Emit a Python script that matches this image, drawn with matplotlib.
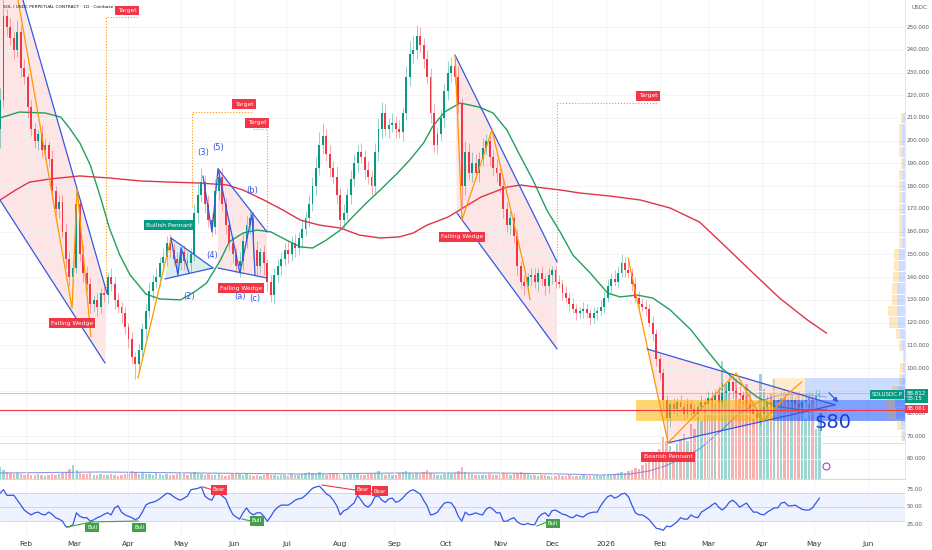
import matplotlib
matplotlib.use('Agg')
import matplotlib.pyplot as plt
from matplotlib import font_manager
import numpy as np
import pandas as pd

plt.rcParams['font.family'] = ['DejaVu Sans']

# x axis = days since START; one candle every 2 days
START = pd.Timestamp('2025-01-17')

first_open = 205
closes = [
    218, 255, 250, 245, 240, 248, 232, 228, 215, 205,
    200, 203, 196, 198, 192, 178, 170, 173, 160, 148,
    140, 144, 172, 150, 142, 137, 128, 130, 127, 133,
    132, 140, 137, 130, 127, 124, 118, 113, 105, 102,
    108, 117, 125, 134, 138, 140, 146, 149, 155, 152,
    148, 146, 151, 147, 146, 150, 168, 176, 182, 172,
    165, 162, 178, 184, 172, 163, 155, 150, 145, 147,
    156, 163, 166, 152, 145, 151, 146, 138, 132, 141,
    145, 148, 152, 150, 155, 153, 157, 161, 166, 172,
    180, 188, 198, 202, 194, 188, 184, 176, 165, 168,
    176, 183, 190, 195, 193, 187, 184, 180, 195, 205,
    212, 205, 207, 208, 205, 204, 212, 228, 238, 240,
    246, 242, 236, 228, 212, 198, 203, 210, 222, 230,
    233, 228, 216, 180, 195, 186, 190, 186, 192, 197,
    200, 193, 188, 186, 180, 170, 163, 166, 158, 145,
    138, 136, 140, 141, 138, 142, 139, 136, 141, 143,
    138, 137, 133, 131, 128, 126, 124, 125, 126, 124,
    122, 124, 125, 127, 131, 136, 139, 138, 142, 146,
    143, 142, 137, 131, 128, 127, 126, 120, 115, 104,
    98, 86, 78, 84, 82, 85, 83, 80, 84, 82,
    80, 83, 85, 84, 87, 86, 88, 85, 89, 90,
    94, 90, 89, 88, 86, 84, 82, 80, 78, 80,
    83, 85, 84, 86, 85, 87, 86, 85, 86, 84,
    83, 85, 86, 87, 86, 88, 88.8,
]
# wick lengths above / below the body, USDC, one digit per candle
wick_up = ('5934353423' '3243242334' '3382433232' '3243323232' '3334343434'
           '3323434563' '4353432334' '4443423233' '3334343434' '4566343534'
           '3443434345' '5434343566' '5434443435' '4353545434' '3434343323'
           '2323323232' '2323232232' '2323333434' '3423333232' '2222323232'
           '2232333453' '3223222323' '2323232322' '2323232')
wick_dn = ('8343434353' '3434343434' '4323434343' '3434343437' '4343434343'
           '3434343434' '3434343435' '4343435434' '3434343434' '3434343444'
           '3434343434' '4343434344' '4343434344' '4349434343' '3434343434'
           '3434343434' '3232323232' '3232323232' '3232323233' '3494232323'
           '2323232323' '2323232323' '2323232322' '2323232')
volume = [
    12, 9, 7, 6, 5, 6, 5, 4, 5, 4,
    4, 5, 4, 3, 4, 5, 4, 5, 6, 7,
    10, 14, 9, 6, 5, 5, 6, 4, 4, 5,
    4, 4, 5, 4, 3, 4, 5, 6, 8, 7,
    5, 6, 5, 5, 4, 6, 5, 4, 5, 4,
    4, 5, 6, 5, 4, 6, 7, 6, 5, 4,
    5, 4, 4, 5, 4, 3, 4, 5, 6, 5,
    4, 5, 4, 3, 4, 3, 4, 5, 4, 4,
    3, 4, 4, 3, 5, 4, 4, 5, 6, 7,
    6, 5, 7, 5, 4, 5, 6, 5, 4, 5,
    4, 5, 5, 6, 4, 4, 5, 5, 6, 8,
    5, 4, 5, 4, 4, 6, 7, 8, 6, 5,
    6, 5, 7, 9, 6, 5, 4, 4, 5, 6,
    5, 6, 8, 12, 7, 6, 5, 4, 4, 4,
    4, 5, 4, 4, 5, 6, 5, 4, 5, 6,
    7, 6, 5, 4, 4, 3, 4, 4, 3, 3,
    3, 4, 3, 3, 4, 3, 3, 3, 4, 3,
    3, 3, 4, 3, 4, 5, 4, 5, 6, 7,
    6, 8, 9, 11, 10, 14, 16, 18, 20, 25,
    30, 42, 38, 33, 28, 35, 40, 45, 38, 55,
    50, 62, 58, 70, 65, 80, 75, 90, 118, 95,
    85, 70, 100, 80, 78, 95, 88, 60, 70, 105,
    90, 72, 85, 100, 68, 75, 90, 80, 85, 78,
    88, 72, 60, 75, 82, 50, 66,
]
rsi = [
    69, 74, 66, 66, 66, 59, 52, 45, 41, 38,
    41, 42, 39, 38, 42, 39, 34, 32, 29, 21,
    21, 24, 41, 36, 34, 34, 29, 31, 34, 36,
    39, 41, 38, 48, 51, 42, 38, 36, 34, 31,
    34, 42, 52, 55, 56, 58, 61, 65, 69, 68,
    64, 61, 59, 62, 65, 74, 75, 76, 78, 65,
    61, 59, 68, 69, 65, 61, 49, 39, 35, 32,
    41, 48, 41, 38, 41, 41, 36, 29, 36, 44,
    49, 52, 52, 52, 55, 59, 61, 62, 66, 71,
    76, 78, 79, 74, 68, 65, 59, 51, 38, 44,
    46, 51, 55, 66, 59, 52, 49, 54, 64, 65,
    59, 56, 61, 62, 56, 58, 62, 68, 72, 74,
    71, 68, 59, 51, 38, 39, 42, 49, 55, 56,
    55, 48, 36, 29, 42, 38, 39, 41, 39, 38,
    46, 49, 46, 41, 41, 29, 29, 32, 34, 28,
    25, 24, 26, 24, 24, 34, 39, 41, 36, 44,
    45, 42, 39, 38, 35, 34, 38, 36, 35, 39,
    41, 42, 42, 51, 58, 64, 66, 62, 64, 68,
    69, 64, 52, 41, 38, 38, 35, 31, 25, 19,
    18, 16, 22, 21, 24, 28, 34, 32, 32, 38,
    35, 34, 42, 45, 48, 52, 55, 49, 45, 49,
    56, 59, 55, 49, 52, 55, 48, 42, 42, 39,
    38, 42, 45, 48, 48, 55, 56, 51, 51, 52,
    49, 46, 45, 45, 48, 55, 62,
]

# moving averages (day, price)
ma50_days = [0, 11, 26, 35, 40, 46, 52, 58, 63, 69, 75, 84, 92, 104, 112, 119, 127, 132,
             140, 148, 156, 165, 173, 180, 188, 196, 203, 211, 219, 229, 236, 244, 249,
             256, 265, 276, 284, 292, 300, 307, 315, 323, 330, 340, 350, 357, 367, 376,
             386, 398, 407, 415, 425, 436, 446, 461, 476]
ma50 = [210.0, 212.6, 212.2, 210.4, 205.6, 199.0, 189.3, 174.8, 161.6, 149.7, 140.9, 132.6,
        130.4, 130.0, 133.5, 137.4, 147.5, 155.5, 159.4, 160.7, 159.9, 156.3, 153.3, 152.8,
        156.3, 160.7, 166.4, 172.6, 178.3, 185.8, 191.5, 199.0, 206.0, 212.6, 216.6, 214.8,
        212.2, 204.7, 192.8, 182.7, 169.5, 159.4, 149.7, 141.8, 133.0, 131.3, 132.1, 130.8,
        125.6, 116.8, 108.0, 100.5, 93.9, 87.3, 83.3, 81.6, 81.6]
ma200_days = [0, 9, 17, 29, 46, 63, 81, 98, 115, 131, 140, 152, 163, 173, 184, 196, 207,
              219, 230, 238, 246, 258, 277, 292, 300, 309, 323, 334, 351, 369, 386, 403,
              417, 432, 449, 465, 476]
ma200 = [173.9, 178.3, 181.8, 183.2, 184.5, 183.6, 182.3, 181.8, 181.4, 180.5, 178.3, 173.9,
         169.5, 165.1, 162.9, 161.6, 158.5, 157.2, 157.7, 159.4, 162.9, 166.4, 175.2, 179.6,
         180.5, 179.6, 178.3, 177.0, 175.7, 173.9, 170.4, 164.2, 154.1, 143.1, 130.8, 121.2,
         115.4]
vma_days = [0, 58, 115, 173, 230, 288, 323, 346, 363, 374, 383, 392, 403, 415, 426, 438,
            449, 461, 476]
vma = [6, 7, 6, 5, 6, 6, 5, 4, 5, 8, 13, 20, 30, 48, 66, 78, 84, 85, 82]

# visible-range volume profile (right edge)
vp_levels = [70, 75, 80, 85, 90, 95, 100, 105, 110, 115, 120, 125, 130, 135, 140, 145,
             150, 155, 160, 165, 170, 175, 180, 185, 190, 195, 200, 205, 210]
vp_up = [2, 4, 9, 10, 7, 3, 2, 1, 3, 5, 7, 8, 8, 8, 6, 6, 6, 3, 3, 3, 3, 3, 3, 3, 2, 3, 3, 3, 2]
vp_dn = [2, 4, 8, 9, 6, 3, 3, 1, 3, 4, 9, 9, 5, 5, 6, 5, 5, 3, 3, 3, 3, 3, 3, 3, 2, 3, 3, 3, 2]

months = ['2025-02-01', '2025-03-01', '2025-04-01', '2025-05-01', '2025-06-01', '2025-07-01',
          '2025-08-01', '2025-09-01', '2025-10-01', '2025-11-01', '2025-12-01', '2026-01-01',
          '2026-02-01', '2026-03-01', '2026-04-01', '2026-05-01', '2026-06-01']
month_labels = ['Feb', 'Mar', 'Apr', 'May', 'Jun', 'Jul', 'Aug', 'Sep', 'Oct', 'Nov', 'Dec',
                '2026', 'Feb', 'Mar', 'Apr', 'May', 'Jun']
price_ticks = [60, 70, 80, 100, 110, 120, 130, 140, 150, 160, 170, 180, 190, 200, 210,
               220, 230, 240, 250]

GREEN = '#089981'
RED = '#f23645'
BLUE = '#3358e0'
ORANGE = '#ff9800'

W, H = 932, 550


def box(l, t, r, b):
    return [l / W, 1 - b / H, (r - l) / W, (b - t) / H]


# the chart title is set in a narrow face when one is installed
try:
    font_manager.findfont(font_manager.FontProperties(family='Liberation Sans Narrow'),
                          fallback_to_default=False)
    title_font, title_size = 'Liberation Sans Narrow', 4.5
except ValueError:
    title_font, title_size = 'DejaVu Sans', 3.2

fig = plt.figure(figsize=(W / 100, H / 100), dpi=100)
ax = fig.add_axes(box(0, 0, 905, 479))
rs = fig.add_axes(box(0, 479, 905, 535))
XMAX = 521.3
month_days = [(pd.Timestamp(m) - START).days for m in months]

# ---------- volume (behind the price) ----------
days = np.arange(len(closes)) * 2.0
opens = np.array([first_open] + closes[:-1], dtype=float)
cl = np.array(closes, dtype=float)
up = cl >= opens
vol = ax.twinx()
ax.set_zorder(vol.get_zorder() + 1)
ax.patch.set_visible(False)
vol.bar(days, volume, width=1.4, color=np.where(up, '#26a69a', '#ef5350'), alpha=0.45, lw=0)
vol.plot(vma_days, vma, color='#6d7fe0', lw=0.8, alpha=0.8)
vol.set_ylim(0, 479)
vol.set_xlim(0, XMAX)
vol.axis('off')

# ---------- price pane ----------
ax.set_xlim(0, XMAX)
ax.set_ylim(51.2, 261.9)
ax.set_xticks(month_days)
ax.set_yticks(price_ticks + [90])
ax.grid(color='#f0f2f7', lw=0.6, zorder=0)
ax.tick_params(left=False, bottom=False, labelleft=False, labelbottom=False)
for s in ax.spines.values():
    s.set_visible(False)
ax.axhline(51.2, color='#d6d9e0', lw=0.8, clip_on=False)
ax.axvline(XMAX, color='#e0e3eb', lw=0.6, clip_on=False)


def poly(pts, color, alpha, z=1):
    xs, ys = zip(*pts)
    ax.fill(xs, ys, color=color, alpha=alpha, lw=0, zorder=z)


def line(pts, color, lw=0.9, z=5, **kw):
    xs, ys = zip(*pts)
    ax.plot(xs, ys, color=color, lw=lw, zorder=z, solid_capstyle='round', **kw)


# pattern shading
poly([(0, 261.9), (13.2, 261.9), (61.6, 133.0), (60.5, 102.2), (0, 173.9)], RED, 0.13)
poly([(98.5, 157.2), (95.0, 139.2), (122.7, 144.0)], GREEN, 0.15)
poly([(125.6, 187.6), (153.8, 159.9), (153.8, 139.6), (125.6, 144.0)], RED, 0.13)
poly([(262.1, 237.7), (320.9, 146.7), (320.9, 108.4), (263.2, 168.2)], RED, 0.13)
poly([(372.7, 108.4), (384.8, 67.1), (481.0, 83.8)], RED, 0.13)

# horizontal levels
ax.axhline(89.0, color='#b8bcc6', lw=0.6, zorder=2)
ax.axhline(67.1, color='#d8dbe2', lw=0.6, zorder=2)
ax.axhline(81.6, color=RED, lw=0.8, zorder=6)

# moving averages
ax.plot(ma50_days, ma50, color='#22a05a', lw=1.0, zorder=3.5)
ax.plot(ma200_days, ma200, color='#e0344a', lw=1.0, zorder=3.5)

# candles
hi = np.maximum(opens, cl) + np.array([int(c) for c in wick_up])
lo = np.minimum(opens, cl) - np.array([int(c) for c in wick_dn])
ccol = np.where(up, GREEN, RED)
ax.vlines(days, lo, hi, colors=ccol, lw=0.6, alpha=0.5, zorder=3.8)
body = np.maximum(np.abs(cl - opens), 0.4)
ax.bar(days, body, bottom=np.minimum(opens, cl), width=1.1, color=ccol, lw=0, zorder=4)

# zones
ax.fill_between([366.4, 445.3], 76.7, 86.0, color='#ffb300', alpha=0.55, lw=0, zorder=4.5)
ax.fill_between([445.3, XMAX], 76.7, 86.0, color='#2962ff', alpha=0.6, lw=0, zorder=4.5)
ax.fill_between([444.7, 463.7], 86.0, 95.6, color='#ffd8a0', alpha=0.5, lw=0, zorder=4.5)
ax.fill_between([463.7, XMAX], 86.0, 95.6, color='#9db8fb', alpha=0.5, lw=0, zorder=4.5)

# pattern lines
line([(13.2, 261.9), (61.6, 133.0)], BLUE)
line([(0, 173.9), (60.5, 102.2)], BLUE)
line([(10.4, 261.9), (41.5, 126.4), (44.4, 179.2), (52.4, 113.7)], ORANGE)
line([(79.5, 95.6), (98.5, 157.2)], ORANGE)
line([(98.5, 157.2), (122.7, 144.0)], BLUE)
line([(95.0, 139.2), (122.7, 144.0)], BLUE)
line([(98.5, 157.2), (102.5, 140.9), (104.3, 153.0), (108.9, 141.8)], BLUE)
line([(116.9, 184.5), (122.1, 159.9), (125.6, 187.6), (138.2, 141.8), (145.2, 167.8),
      (146.9, 140.9)], BLUE)
line([(125.6, 187.6), (153.8, 159.9)], BLUE)
line([(125.6, 144.0), (153.8, 139.6)], BLUE)
line([(262.1, 237.7), (320.9, 146.7)], BLUE)
line([(263.2, 168.2), (320.9, 108.4)], BLUE)
line([(262.1, 237.7), (266.1, 165.1), (283.4, 204.7), (302.4, 143.1), (305.3, 130.0)], ORANGE)
line([(361.8, 148.4), (384.8, 67.1)], ORANGE)
line([(372.7, 108.4), (481.0, 83.8)], BLUE)
line([(384.8, 67.1), (481.0, 83.8)], BLUE)
line([(384.8, 67.1), (424.0, 97.8), (439.5, 76.7), (455.0, 89.5), (462.0, 94.0)], ORANGE)
ax.annotate('', xy=(484.0, 84.0), xytext=(476.4, 90.0),
            arrowprops=dict(arrowstyle='-|>', color=BLUE, lw=0.9, mutation_scale=7), zorder=7)

# target projections
dot = dict(color=ORANGE, lw=0.8, ls=(0, (1, 1.6)), z=2)
line([(61.1, 133.0), (61.1, 254.4), (78.9, 254.4)], **dot)
line([(110.6, 170.8), (110.6, 212.6), (145.7, 212.6)], **dot)
line([(153.8, 159.9), (153.8, 205.1), (145.7, 205.1)], **dot)
line([(320.9, 146.7), (320.9, 216.6), (379.0, 216.6)], **dot)


def tag(x, y, text, fc, fs=4.3, axes=ax):
    axes.text(x, y, text, fontsize=fs, color='white', ha='center', va='center', zorder=10,
              bbox=dict(boxstyle='square,pad=0.4', fc=fc, ec='none'))


tag(73.2, 257.3, 'Target', RED)
tag(140.6, 216.1, 'Target', RED)
tag(148.0, 207.8, 'Target', RED)
tag(373.3, 219.7, 'Target', RED)
tag(41.5, 119.8, 'Falling Wedge', RED)
tag(138.8, 135.2, 'Falling Wedge', RED)
tag(266.1, 157.7, 'Falling Wedge', RED)
tag(97.4, 162.9, 'Bullish Pennant', GREEN)
tag(384.8, 61.0, 'Bearish Pennant', RED)

for x, y, t in [(116.9, 194.6, '(3)'), (125.6, 197.2, '(5)'), (145.2, 178.3, '(b)'),
                (122.1, 149.3, '(4)'), (108.9, 131.3, '(2)'), (138.2, 131.3, '(a)'),
                (146.9, 130.4, '(c)')]:
    ax.text(x, y, t, fontsize=6, color=BLUE, ha='center', va='center', zorder=10)

ax.text(479.8, 75.9, '$80', fontsize=14, color='#1e3ad8', ha='center', va='center', zorder=11)
ax.plot([475.8], [57.0], marker='o', ms=5, mfc='white', mec='#b040c0', mew=0.8, zorder=10)

# volume profile on the right edge
vp = ax.inset_axes([1 - 90 / 905, 0, 90 / 905, 1])
vp.barh(vp_levels, vp_up, height=4.6, color='#2962ff', alpha=0.22, lw=0)
vp.barh(vp_levels, vp_dn, left=vp_up, height=4.6, color='#ffa000', alpha=0.25, lw=0)
vp.set_xlim(90, 0)
vp.set_ylim(51.2, 261.9)
vp.axis('off')

# right price scale
yt = ax.get_yaxis_transform()
for p in price_ticks:
    ax.text(1.002, p, f'{p}.000', transform=yt, fontsize=4.1, color='#555a66', va='center')
ax.text(1.007, 258.5, 'USDC', transform=yt, fontsize=4.1, color='#555a66', va='center')
ax.text(0.997, 88.4, 'SOLUSDC.P', transform=yt, fontsize=4.0, color='white', va='center',
        ha='right', bbox=dict(boxstyle='square,pad=0.3', fc=GREEN, ec='none'), zorder=12)
ax.text(1.002, 87.7, '88.812\n55:15', transform=yt, fontsize=4.0, color='white', va='center',
        linespacing=1.1, bbox=dict(boxstyle='square,pad=0.3', fc=GREEN, ec='none'), zorder=12)
ax.text(1.002, 82.0, '88.061', transform=yt, fontsize=4.0, color='white', va='center',
        bbox=dict(boxstyle='square,pad=0.3', fc=RED, ec='none'), zorder=12)

fig.text(3 / W, 1 - 7.5 / H, 'SOL / USDC PERPETUAL CONTRACT · 1D · Coinbase',
         fontsize=title_size, family=[title_font, 'DejaVu Sans'], color='#131722', va='center')

# ---------- RSI pane ----------
rs.set_xlim(0, XMAX)
rs.set_ylim(9.3, 89.3)
rs.axhspan(30, 70, color='#2962ff', alpha=0.07, lw=0)
for lvl in (30, 50, 70):
    rs.axhline(lvl, color='#c5cad6', lw=0.5)
rs.plot(days, rsi, color='#3355e8', lw=0.9, zorder=3)
rs.set_xticks(month_days)
rs.set_xticklabels(month_labels)
rs.set_yticks([])
rs.grid(axis='x', color='#f0f2f7', lw=0.6, zorder=0)
rs.tick_params(length=0, labelsize=5.3, labelcolor='#333', pad=4)
for s in rs.spines.values():
    s.set_visible(False)
rt = rs.get_yaxis_transform()
for v in (75, 50, 25):
    rs.text(1.002, v, f'{v:.2f}', transform=rt, fontsize=4.1, color='#555a66', va='center')

for pts, col in [([(38.6, 20.7), (53.0, 27.9)], '#43a047'),
                 ([(53.0, 27.9), (79.5, 29.3)], '#43a047'),
                 ([(116.9, 77.9), (122.7, 73.6)], RED),
                 ([(139.4, 32.1), (144.6, 29.3)], '#43a047'),
                 ([(185.5, 80.7), (208.5, 72.1)], RED),
                 ([(208.5, 72.1), (217.7, 70.7)], RED),
                 ([(309.3, 22.1), (315.1, 27.9)], '#43a047')]:
    xs, ys = zip(*pts)
    rs.plot(xs, ys, color=col, lw=0.8, zorder=4)
for x, y, t, c in [(53.0, 19.5, 'Bull', '#43a047'), (80.1, 20.5, 'Bull', '#43a047'),
                   (126.2, 73.6, 'Bear', RED), (148.0, 29.3, 'Bull', '#43a047'),
                   (209.1, 73.6, 'Bear', RED), (218.9, 72.1, 'Bear', RED),
                   (318.5, 25.4, 'Bull', '#43a047')]:
    tag(x, y, t, c, fs=3.8, axes=rs)

fig.savefig('out.png', dpi=100)
